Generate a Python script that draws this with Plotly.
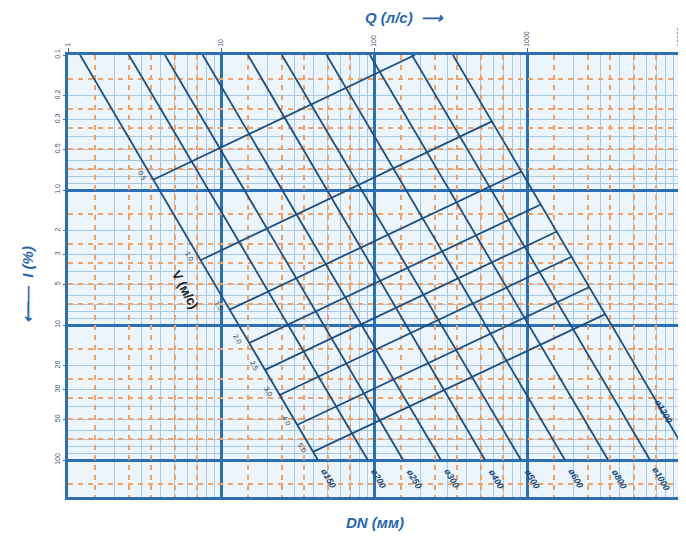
import math
import plotly.graph_objects as go

# ---- axis ticks ----
q_ticks = [1, 10, 100, 1000, 10000]
q_tick_text = ["1", "10", "100", "1000", "10000"]
i_ticks = [0.1, 0.2, 0.3, 0.5, 1, 2, 3, 5, 10, 20, 30, 50, 100]
i_tick_text = ["0.1", "0.2", "0.3", "0.5", "1.0", "2", "3", "5", "10", "20", "30", "50", "100"]
minor_mant = [2, 3, 4, 5, 6, 7, 8, 9]
orange_mant = [1.5, 2.5, 3.5, 5, 7]

# ---- DN (pipe diameter) lines: start / end points (Q l/s, i %) ----
dn_labels = ["ø150", "ø200", "ø250", "ø300", "ø400", "ø500", "ø600", "ø800", "ø1000", "ø1200"]
dn_q_start = [1.2, 2.5, 4.3, 7.6, 15, 25, 49, 94, 177, 328]
dn_i_start = [0.1, 0.1, 0.1, 0.1, 0.1, 0.1, 0.1, 0.1, 0.1, 0.1]
dn_q_end = [43, 91, 155, 274, 532, 914, 1770, 3390, 6370, 10000]
dn_i_end = [100, 100, 100, 100, 100, 100, 100, 100, 100, 73]

# ---- velocity lines ----
v_labels = ["0.5", "1.0", "1.5", "2.0", "2.5", "3.0", "4.0", "5.0"]
v_q_start = [3.6, 7.4, 11.4, 15.3, 19.4, 24.2, 31.4, 39.9]
v_i_start = [0.84, 3.3, 7.7, 13.6, 21.5, 33, 55, 87]
v_q_end = [185, 590, 919, 1233, 1566, 1955, 2558, 3250]
v_i_end = [0.1, 0.31, 0.73, 1.28, 2.03, 3.12, 5.23, 8.3]

LINE = "#1d4f80"
FRAME = "#2f6fb0"
TXT = "#2a66ad"
FONT = "Liberation Sans, Arial, sans-serif"
lg = math.log10

def mant_vals(mants, lo, hi):
    out = []
    for d in range(lo, hi + 1):
        for m in mants:
            out.append(m * 10 ** d)
    return out

fig = go.Figure()

for k in range(len(dn_labels)):
    fig.add_trace(go.Scatter(x=[dn_q_start[k], dn_q_end[k]], y=[dn_i_start[k], dn_i_end[k]],
                             mode="lines", line=dict(color=LINE, width=1.8),
                             showlegend=False, hoverinfo="skip"))
for k in range(len(v_labels)):
    fig.add_trace(go.Scatter(x=[v_q_start[k], v_q_end[k]], y=[v_i_start[k], v_i_end[k]],
                             mode="lines", line=dict(color=LINE, width=1.8),
                             showlegend=False, hoverinfo="skip"))

# invisible traces for overlay axes
fig.add_trace(go.Scatter(x=[1], y=[1], xaxis="x2", yaxis="y2", mode="markers",
                         marker=dict(opacity=0), showlegend=False, hoverinfo="skip"))
fig.add_trace(go.Scatter(x=[1], y=[1], xaxis="x", yaxis="y3", mode="markers",
                         marker=dict(opacity=0), showlegend=False, hoverinfo="skip"))

yrange = [2.274, -1]
xrange_ = [0, 4]

fig.update_layout(
    width=686, height=539,
    margin=dict(l=60, r=14, t=47, b=50),
    paper_bgcolor="white",
    plot_bgcolor="#edf5fc",
    font=dict(family=FONT, color=TXT),
    xaxis=dict(type="log", range=xrange_, side="top", automargin=False,
               tickvals=q_ticks, ticktext=q_tick_text, tickangle=-90,
               tickfont=dict(size=7, color="#3f5573"),
               ticks="outside", ticklen=4, tickcolor=FRAME,
               showgrid=True, gridcolor="#2c6fb5", gridwidth=3,
               minor=dict(tickvals=mant_vals(minor_mant, 0, 3), showgrid=True,
                          gridcolor="#a6c9e9", gridwidth=1, ticks=""),
               showline=True, linecolor=FRAME, linewidth=2.5, mirror=True,
               zeroline=False),
    yaxis=dict(type="log", range=yrange, automargin=False,
               tickvals=[0.1, 1, 10, 100], showticklabels=False, ticks="",
               showgrid=True, gridcolor="#2c6fb5", gridwidth=3,
               minor=dict(tickvals=mant_vals(minor_mant, -1, 2), showgrid=True,
                          gridcolor="#a6c9e9", gridwidth=1, ticks=""),
               showline=True, linecolor=FRAME, linewidth=2.5, mirror=True,
               zeroline=False),
    xaxis2=dict(type="log", range=xrange_, overlaying="x", side="bottom", automargin=False,
                tickvals=mant_vals(orange_mant, 0, 3), showticklabels=False, ticks="",
                showgrid=True, gridcolor="#f2a266", gridwidth=1.5, griddash="5px,5px",
                showline=False, zeroline=False),
    yaxis2=dict(type="log", range=yrange, overlaying="y", side="right", automargin=False,
                tickvals=mant_vals(orange_mant, -1, 2), showticklabels=False, ticks="",
                showgrid=True, gridcolor="#f2a266", gridwidth=1.5, griddash="5px,5px",
                showline=False, zeroline=False),
    yaxis3=dict(type="log", range=yrange, overlaying="y", side="left", automargin=False,
                tickvals=i_ticks, ticktext=i_tick_text, tickangle=-90,
                tickfont=dict(size=7, color="#3f5573"),
                ticks="outside", ticklen=4, tickcolor=FRAME,
                showgrid=False, zeroline=False, showline=False),
)

# DN labels
for k in range(len(dn_labels)):
    if k == len(dn_labels) - 1:
        xs, ys = -16, 30
    else:
        xs, ys = 11, -19
    fig.add_annotation(x=lg(dn_q_end[k]), y=lg(dn_i_end[k]), xref="x", yref="y",
                       text="<b><i>" + dn_labels[k] + "</i></b>", showarrow=False,
                       textangle=60, xshift=xs, yshift=ys,
                       font=dict(size=9, color=LINE, family=FONT))

# velocity labels
for k in range(len(v_labels)):
    fig.add_annotation(x=lg(v_q_start[k]), y=lg(v_i_start[k]), xref="x", yref="y",
                       text=v_labels[k], showarrow=False, textangle=60,
                       xshift=-11, yshift=4,
                       font=dict(size=7, color="#333333", family=FONT))

fig.add_annotation(x=lg(5.8), y=lg(5.5), xref="x", yref="y", text="<b>V (м/с)</b>",
                   showarrow=False, textangle=62,
                   font=dict(size=13, color="#222222", family=FONT))

fig.add_annotation(x=0.55, y=1.084, xref="paper", yref="paper",
                   xanchor="center", yanchor="middle",
                   text="<b><i>Q (л/с)  ⟶</i></b>", showarrow=False,
                   font=dict(size=15, color=TXT, family=FONT))
fig.add_annotation(x=0.502, y=-0.057, xref="paper", yref="paper",
                   xanchor="center", yanchor="middle",
                   text="<b><i>DN (мм)</i></b>", showarrow=False,
                   font=dict(size=15, color=TXT, family=FONT))
fig.add_annotation(x=-0.065, y=0.48, xref="paper", yref="paper",
                   xanchor="center", yanchor="middle",
                   text="<b><i>⟵—  I (%)</i></b>", showarrow=False, textangle=-90,
                   font=dict(size=15, color=TXT, family=FONT))

fig.write_html("out.html")
